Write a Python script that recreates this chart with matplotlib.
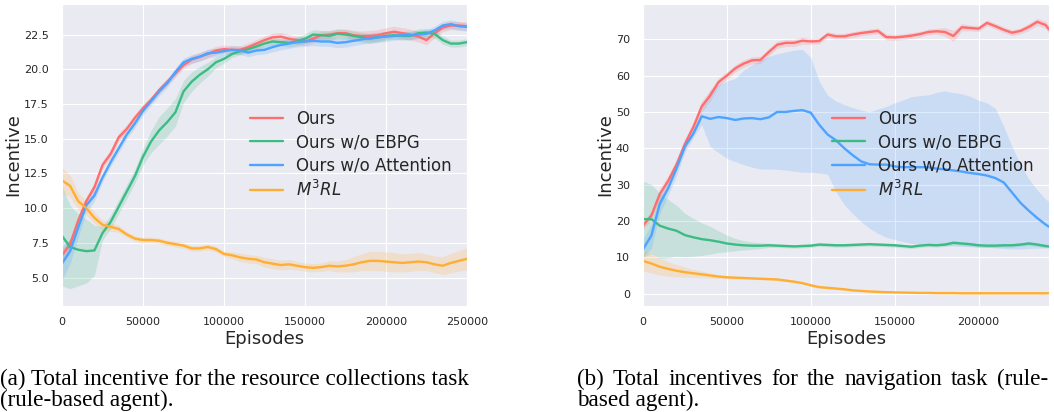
import matplotlib
matplotlib.use('Agg')
import matplotlib.pyplot as plt
import numpy as np
import seaborn as sns
from matplotlib.ticker import MultipleLocator

# ---- (a) resource collection task ----
ep_a = np.arange(0, 250001, 5000)
ours_a = [6.6, 7.4, 9.1, 10.5, 11.5, 13.1, 13.9, 15.1, 15.7, 16.5, 17.2, 17.8, 18.5, 19.1, 19.7, 20.3, 20.7,
          20.9, 21.1, 21.35, 21.45, 21.4, 21.4, 21.6, 21.85, 22.1, 22.3, 22.35, 22.2, 22.1, 22.0, 22.2, 22.45,
          22.5, 22.6, 22.6, 22.45, 22.4, 22.4, 22.45, 22.6, 22.7, 22.6, 22.5, 22.35, 22.1, 22.6, 23.0, 23.15,
          23.15, 23.1]
ours_a_err = [0.4, 0.4, 0.4, 0.35, 0.35, 0.3, 0.3, 0.3, 0.3, 0.25, 0.25, 0.25, 0.25, 0.25, 0.25, 0.25, 0.3,
              0.3, 0.3, 0.3, 0.3, 0.3, 0.3, 0.3, 0.3, 0.3, 0.3, 0.3, 0.3, 0.3, 0.3, 0.3, 0.3, 0.3, 0.3, 0.3,
              0.35, 0.35, 0.4, 0.4, 0.4, 0.4, 0.4, 0.4, 0.4, 0.35, 0.35, 0.3, 0.3, 0.3, 0.3]
noebpg_a = [8.0, 7.2, 7.0, 6.9, 6.95, 8.2, 9.0, 10.1, 11.2, 12.3, 13.7, 14.8, 15.6, 16.2, 16.9, 18.4, 19.1,
            19.6, 20.0, 20.5, 20.75, 21.1, 21.3, 21.45, 21.65, 21.85, 22.0, 21.95, 21.9, 22.0, 22.2, 22.5,
            22.45, 22.4, 22.55, 22.5, 22.4, 22.3, 22.2, 22.3, 22.4, 22.45, 22.4, 22.4, 22.6, 22.65, 22.55,
            22.1, 21.85, 21.85, 21.95]
noebpg_a_err = [3.6, 3.0, 2.6, 2.3, 1.8, 0.5, 0.5, 0.5, 0.5, 0.5, 0.6, 0.8, 1.0, 1.0, 1.0, 0.8, 0.7, 0.6,
                0.5, 0.4, 0.3, 0.25, 0.25, 0.25, 0.25, 0.25, 0.25, 0.25, 0.3, 0.3, 0.35, 0.35, 0.35, 0.35,
                0.35, 0.35, 0.35, 0.35, 0.35, 0.35, 0.3, 0.3, 0.3, 0.3, 0.3, 0.3, 0.3, 0.3, 0.25, 0.25, 0.25]
noatt_a = [6.0, 6.9, 8.6, 10.2, 10.9, 12.2, 13.3, 14.3, 15.3, 16.1, 17.0, 17.7, 18.4, 19.0, 19.8, 20.5,
           20.75, 20.9, 21.15, 21.2, 21.3, 21.4, 21.35, 21.2, 21.35, 21.4, 21.6, 21.75, 21.85, 21.95, 22.0,
           22.05, 22.0, 22.0, 21.9, 21.95, 22.05, 22.15, 22.25, 22.3, 22.35, 22.4, 22.45, 22.45, 22.5, 22.55,
           22.8, 23.15, 23.25, 23.1, 23.05]
noatt_a_err = [1.2, 0.9, 0.7, 0.5, 0.4, 0.3, 0.3, 0.3, 0.3, 0.3, 0.3, 0.3, 0.3, 0.3, 0.3, 0.3, 0.3, 0.3,
               0.3, 0.3, 0.3, 0.3, 0.3, 0.3, 0.3, 0.3, 0.35, 0.35, 0.35, 0.35, 0.35, 0.35, 0.35, 0.35, 0.35,
               0.35, 0.35, 0.35, 0.35, 0.35, 0.35, 0.3, 0.3, 0.3, 0.3, 0.3, 0.3, 0.3, 0.3, 0.3, 0.3]
m3rl_a = [12.0, 11.6, 10.5, 10.0, 9.3, 8.8, 8.65, 8.5, 8.1, 7.8, 7.7, 7.7, 7.65, 7.5, 7.4, 7.3, 7.1, 7.1, 7.2,
          7.05, 6.7, 6.6, 6.45, 6.35, 6.3, 6.1, 6.0, 5.9, 5.95, 5.85, 5.75, 5.7, 5.75, 5.85, 5.8, 5.85, 5.95,
          6.1, 6.2, 6.2, 6.15, 6.1, 6.05, 6.1, 6.15, 6.1, 5.95, 5.85, 6.05, 6.2, 6.35]
m3rl_a_err = [0.9, 0.8, 0.6, 0.5, 0.4, 0.35, 0.3, 0.25, 0.2, 0.2, 0.2, 0.2, 0.2, 0.2, 0.2, 0.2, 0.2, 0.2, 0.2,
              0.2, 0.2, 0.25, 0.3, 0.3, 0.3, 0.35, 0.35, 0.35, 0.35, 0.3, 0.3, 0.3, 0.3, 0.35, 0.4, 0.45,
              0.55, 0.6, 0.7, 0.7, 0.7, 0.7, 0.65, 0.65, 0.65, 0.6, 0.6, 0.65, 0.7, 0.75, 0.8]

# ---- (b) navigation task ----
ep_b = np.append(np.arange(0, 240001, 5000), 242000)
ours_b = [18.7, 21.5, 27.4, 31.0, 35.5, 41.2, 45.8, 51.5, 54.5, 58.2, 60.0, 62.0, 63.3, 64.2, 64.3, 66.5, 68.5,
          69.0, 69.0, 69.6, 69.4, 69.5, 71.3, 70.8, 70.8, 71.3, 71.7, 72.0, 72.3, 70.6, 70.5, 70.7, 71.0, 71.4,
          72.0, 72.2, 72.0, 70.9, 73.3, 73.1, 72.9, 74.5, 73.6, 72.6, 71.8, 72.3, 73.4, 74.8, 73.9, 72.7]
ours_b_err = [1.0, 1.2, 1.5, 1.5, 1.5, 1.5, 1.5, 1.5, 1.5, 1.2, 1.0, 1.0, 1.0, 1.0, 1.0, 1.0, 1.0, 1.0, 1.0,
              1.0, 0.8, 0.8, 0.8, 0.8, 0.8, 0.8, 0.8, 0.8, 0.8, 0.8, 0.8, 0.8, 0.8, 0.8, 0.8, 0.8, 1.2, 1.5,
              1.0, 0.8, 0.8, 0.8, 0.8, 0.8, 0.8, 0.8, 1.0, 1.0, 1.0, 1.0]
noebpg_b = [20.5, 20.5, 18.7, 17.9, 17.3, 16.1, 15.5, 15.0, 14.7, 14.3, 13.8, 13.5, 13.3, 13.2, 13.2, 13.3,
            13.2, 13.1, 13.0, 13.1, 13.2, 13.5, 13.4, 13.3, 13.3, 13.4, 13.5, 13.6, 13.5, 13.4, 13.3, 13.1,
            12.9, 13.2, 13.4, 13.3, 13.5, 14.0, 13.8, 13.6, 13.3, 13.2, 13.2, 13.3, 13.3, 13.5, 13.8, 13.5,
            13.1, 13.0]
noebpg_b_err = [10.5, 9.5, 9.0, 8.0, 7.0, 6.0, 5.2, 4.5, 3.8, 3.0, 2.3, 1.7, 1.3, 1.0, 0.8, 0.6, 0.5, 0.5,
                0.5, 0.5, 0.5, 0.5, 0.5, 0.5, 0.5, 0.5, 0.5, 0.5, 0.5, 0.5, 0.5, 0.5, 0.5, 0.5, 0.5, 0.5, 0.5,
                0.5, 0.5, 0.5, 0.5, 0.5, 0.5, 0.5, 0.5, 0.5, 0.5, 0.5, 0.5, 0.5]
noatt_b = [12.2, 16.0, 24.7, 29.0, 34.5, 40.5, 44.0, 48.8, 48.1, 48.6, 48.3, 47.8, 48.2, 48.3, 48.0, 48.5,
           50.0, 50.0, 50.3, 50.5, 49.8, 46.5, 43.8, 42.2, 40.0, 38.1, 36.4, 35.6, 35.5, 35.5, 35.0, 34.8,
           34.8, 34.8, 34.8, 34.4, 34.2, 33.9, 33.6, 33.2, 32.9, 32.5, 31.8, 30.6, 27.8, 25.0, 22.8, 20.8,
           19.0, 18.4]
noatt_b_lo = [10.0, 12.5, 22.0, 27.0, 32.5, 39.0, 43.0, 46.5, 40.5, 38.8, 37.2, 36.3, 35.5, 34.8, 34.3, 34.3,
              34.2, 34.0, 33.7, 33.4, 33.4, 33.2, 32.9, 28.0, 24.5, 22.0, 19.8, 18.0, 16.6, 15.5, 14.9, 14.3,
              13.8, 13.5, 13.4, 13.3, 13.2, 13.1, 13.0, 12.9, 12.8, 12.7, 12.6, 12.4, 12.3, 12.3, 12.4, 12.5,
              12.6, 12.7]
noatt_b_hi = [15.0, 19.0, 27.0, 31.0, 36.5, 42.0, 45.5, 50.5, 56.0, 57.5, 58.5, 59.2, 61.5, 63.0, 64.3, 65.3,
              66.0, 66.5, 67.0, 67.2, 65.0, 58.5, 54.6, 53.0, 52.0, 51.2, 50.5, 50.0, 50.8, 51.5, 52.5, 53.3,
              54.2, 54.5, 54.7, 55.4, 55.8, 55.3, 55.0, 54.3, 53.2, 52.5, 51.0, 46.0, 40.5, 35.5, 31.5, 28.5,
              26.0, 25.3]
m3rl_b = [9.0, 8.3, 7.4, 6.8, 6.3, 5.9, 5.6, 5.3, 5.0, 4.7, 4.5, 4.4, 4.3, 4.2, 4.1, 4.0, 3.9, 3.6, 3.3, 2.9,
          2.3, 1.8, 1.6, 1.4, 1.2, 0.9, 0.75, 0.6, 0.5, 0.4, 0.35, 0.3, 0.25, 0.2, 0.2, 0.15, 0.15, 0.15,
          0.1, 0.1, 0.1, 0.1, 0.1, 0.1, 0.1, 0.1, 0.1, 0.1, 0.1, 0.1]
m3rl_b_err = [2.8, 2.6, 2.3, 2.0, 1.7, 1.4, 1.1, 0.9, 0.7, 0.5, 0.4, 0.3, 0.3, 0.3, 0.3, 0.3, 0.3, 0.3, 0.3,
              0.3, 0.3, 0.3, 0.3, 0.25, 0.2, 0.2, 0.2, 0.15, 0.15, 0.15, 0.15, 0.15, 0.15, 0.15, 0.15, 0.15,
              0.15, 0.15, 0.15, 0.15, 0.15, 0.15, 0.15, 0.15, 0.15, 0.15, 0.15, 0.15, 0.15, 0.15]

labels = ['Ours', 'Ours w/o EBPG', 'Ours w/o Attention', '$M^3RL$']
colors = ['#ff6e6e', '#3dbb85', '#4da3ff', '#ffae33']

sns.set_style('darkgrid')
plt.rcParams['font.family'] = ['DejaVu Sans']

W, H = 1054, 412
fig = plt.figure(figsize=(W / 100, H / 100), dpi=100)
ax1 = fig.add_axes([62 / W, (H - 306) / H, 405 / W, 302 / H])
ax2 = fig.add_axes([643 / W, (H - 306) / H, 406 / W, 302 / H])


def band(ax, x, y, lo, hi, c, lab):
    ax.fill_between(x, lo, hi, color=c, alpha=0.2, lw=0)
    ax.plot(x, y, color=c, lw=1.7, label=lab)


series_a = [(ours_a, ours_a_err), (noebpg_a, noebpg_a_err), (noatt_a, noatt_a_err), (m3rl_a, m3rl_a_err)]
for (y, e), c, lab in zip(series_a, colors, labels):
    y, e = np.array(y), np.array(e)
    band(ax1, ep_a, y, y - e, y + e, c, lab)

for (y, e), c, lab in zip([(ours_b, ours_b_err), (noebpg_b, noebpg_b_err)], colors[:2], labels[:2]):
    y, e = np.array(y), np.array(e)
    band(ax2, ep_b, y, y - e, y + e, c, lab)
band(ax2, ep_b, noatt_b, noatt_b_lo, noatt_b_hi, colors[2], labels[2])
y, e = np.array(m3rl_b), np.array(m3rl_b_err)
band(ax2, ep_b, y, y - e, y + e, colors[3], labels[3])

ax1.set_xlim(0, 250000)
ax1.set_ylim(2.95, 24.7)
ax1.yaxis.set_major_locator(MultipleLocator(2.5))
ax2.set_xlim(0, 242000)
ax2.set_ylim(-3.4, 79.7)
ax2.yaxis.set_major_locator(MultipleLocator(10))

for ax in (ax1, ax2):
    ax.xaxis.set_major_locator(MultipleLocator(50000))
    ax.tick_params(axis='x', labelsize=8, pad=4.5)
    ax.tick_params(axis='y', labelsize=8, pad=6)
    ax.set_xlabel('Episodes', fontsize=13, labelpad=2)
    ax.set_ylabel('Incentive', fontsize=13, labelpad=1)
    ax.legend(loc='center right', frameon=False, fontsize=12, labelspacing=0.33)

# captions
cap = dict(family='Liberation Serif', fontsize=16.7, va='baseline', color='black')
fig.text(0, (H - 385) / H, '(a) Total incentive for the resource collections task', **cap)
fig.text(0, (H - 406) / H, '(rule-based agent).', **cap)

# justified first line of caption (b)
fig.canvas.draw()
r = fig.canvas.get_renderer()
words = '(b) Total incentives for the navigation task (rule-'.split()
txts = [fig.text(0, (H - 385) / H, w, **cap) for w in words]
widths = [t.get_window_extent(r).width for t in txts]
gap = ((1048 - 577) - sum(widths)) / (len(words) - 1)
xpos = 577
for t, w in zip(txts, widths):
    t.set_x(xpos / W)
    xpos += w + gap
fig.text(577 / W, (H - 406) / H, 'based agent).', **cap)

fig.savefig('out.png', dpi=100)
